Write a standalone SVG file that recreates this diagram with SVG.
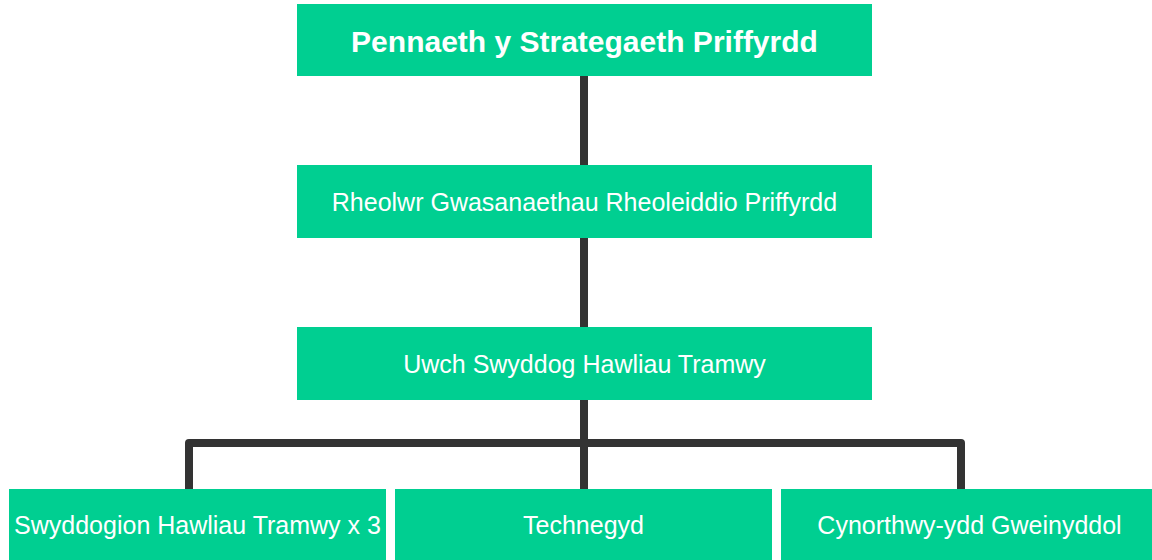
<svg xmlns="http://www.w3.org/2000/svg" width="1152" height="560" viewBox="0 0 1152 560">
<style>
.box{fill:#00CF91}
.t{fill:#ffffff;font-family:"Liberation Sans",Arial,sans-serif;font-size:25px;text-anchor:middle;dominant-baseline:central}
.b{font-weight:bold;font-size:30px}
.c{fill:none;stroke:#333333;stroke-width:8;stroke-linejoin:round}
</style>
<rect width="1152" height="560" fill="#ffffff"/>
<g id="connectors">
<path class="c" d="M584 76V165"/>
<path class="c" d="M584 238V327"/>
<path class="c" d="M584 400V489"/>
<path class="c" d="M189 489V443H961V489"/>
</g>
<g id="n1"><rect class="box" x="297" y="4" width="575" height="72"/><text class="t b" x="584.5" y="41">Pennaeth y Strategaeth Priffyrdd</text></g>
<g id="n2"><rect class="box" x="297" y="165" width="575" height="73"/><text class="t" x="584.5" y="202">Rheolwr Gwasanaethau Rheoleiddio Priffyrdd</text></g>
<g id="n3"><rect class="box" x="297" y="327" width="575" height="73"/><text class="t" x="584.5" y="364">Uwch Swyddog Hawliau Tramwy</text></g>
<g id="n4"><rect class="box" x="9" y="489" width="377" height="72"/><text class="t" x="197.5" y="525">Swyddogion Hawliau Tramwy x 3</text></g>
<g id="n5"><rect class="box" x="395" y="489" width="377" height="72"/><text class="t" x="583.5" y="525">Technegyd</text></g>
<g id="n6"><rect class="box" x="781" y="489" width="377" height="72"/><text class="t" x="969.5" y="525">Cynorthwy-ydd Gweinyddol</text></g>
</svg>
